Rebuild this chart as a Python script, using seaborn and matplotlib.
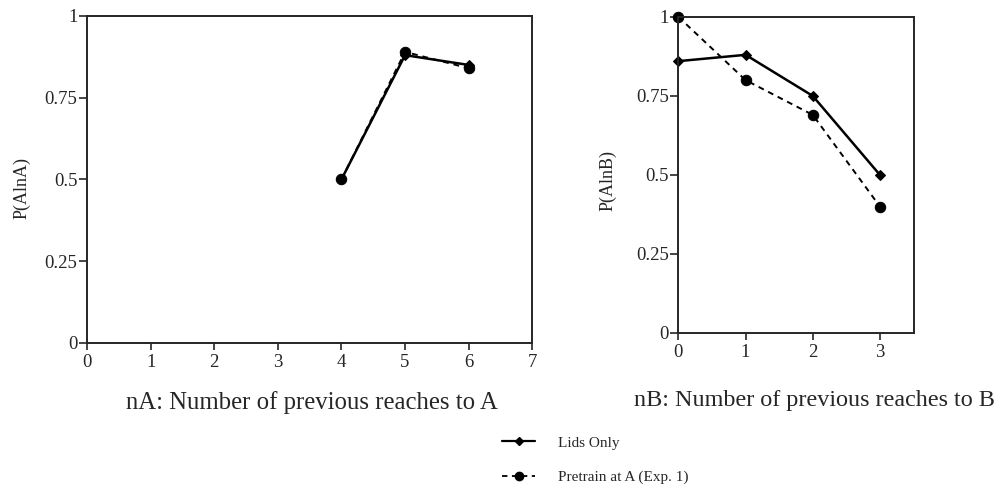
import numpy as np
import pandas as pd
import matplotlib
matplotlib.use("Agg")
import matplotlib.pyplot as plt
import seaborn as sns
from matplotlib.lines import Line2D

# Data
nA = [4, 5, 6]
lids_A = [0.50, 0.88, 0.85]
pre_A = [0.50, 0.89, 0.84]
nB = [0, 1, 2, 3]
lids_B = [0.86, 0.88, 0.75, 0.50]
pre_B = [1.00, 0.80, 0.69, 0.40]
yticks = [0, 0.25, 0.5, 0.75, 1]
ytick_labels = ["0", "0.25", "0.5", "0.75", "1"]

sns.set_style("ticks")
plt.rcParams['font.family'] = ['Liberation Serif', 'DejaVu Serif']
plt.rcParams['axes.linewidth'] = 1.4

fig = plt.figure(figsize=(10.05, 4.97), dpi=100)
axL = fig.add_axes([0.0866, 0.310, 0.443, 0.658])
axR = fig.add_axes([0.675, 0.330, 0.234, 0.636])

dfA = pd.DataFrame({"x": nA + nA, "y": lids_A + pre_A,
                    "s": ["Lids Only"] * 3 + ["Pretrain at A (Exp. 1)"] * 3})
dfB = pd.DataFrame({"x": nB + nB, "y": lids_B + pre_B,
                    "s": ["Lids Only"] * 4 + ["Pretrain at A (Exp. 1)"] * 4})

def draw(ax, df):
    d1 = df[df.s == "Lids Only"]
    d2 = df[df.s != "Lids Only"]
    sns.lineplot(data=d2, x="x", y="y", ax=ax, color="black", lw=1.4,
                 linestyle=(0, (3, 2.5)), marker="o", markersize=7.5,
                 markeredgecolor="black", clip_on=False)
    sns.lineplot(data=d1, x="x", y="y", ax=ax, color="black", lw=1.8,
                 marker="D", markersize=5, markeredgecolor="black", clip_on=False)

draw(axL, dfA)
draw(axR, dfB)

for ax in (axL, axR):
    ax.set_ylim(0, 1)
    ax.set_yticks(yticks)
    ax.set_yticklabels(ytick_labels)
    ax.tick_params(axis="y", direction="out", length=6, width=1.2, labelsize=13.5, pad=1)
    ax.tick_params(axis="x", direction="out", length=5, width=1.2, labelsize=13.5, pad=3)
    for sp in ax.spines.values():
        sp.set_visible(True)
        sp.set_linewidth(1.4)
    if ax.get_legend():
        ax.get_legend().remove()

axL.set_xlim(0, 7)
axL.set_xticks(range(0, 8))
axR.set_xlim(0, 3.5)
axR.set_xticks(range(0, 4))

axL.set_xlabel("nA: Number of previous reaches to A", fontsize=17.8)
axR.set_xlabel("nB: Number of previous reaches to B", fontsize=17.4)
axL.xaxis.set_label_coords(0.506, -0.183)
axR.xaxis.set_label_coords(0.579, -0.212)
axL.xaxis.label.set_va("center")
axR.xaxis.label.set_va("center")

axL.set_ylabel("P(AlnA)", fontsize=13)
axR.set_ylabel("P(AlnB)", fontsize=13)
axL.yaxis.set_label_coords(-0.146, 0.474)
axR.yaxis.set_label_coords(-0.298, 0.481)
axL.yaxis.label.set_va("center")
axR.yaxis.label.set_va("center")

handles = [
    Line2D([], [], color="black", lw=1.6, marker="D", markersize=4),
    Line2D([], [], color="black", lw=1.3, linestyle=(0, (3, 2.5)), marker="o", markersize=6),
]
fig.legend(handles, ["Lids Only", "Pretrain at A (Exp. 1)"], loc="center left",
           bbox_to_anchor=(488 / 1005, 1 - 460 / 497), frameon=False, fontsize=11,
           handlelength=2.2, labelspacing=1.35, handletextpad=1.5)

fig.savefig("out.png", dpi=100)
